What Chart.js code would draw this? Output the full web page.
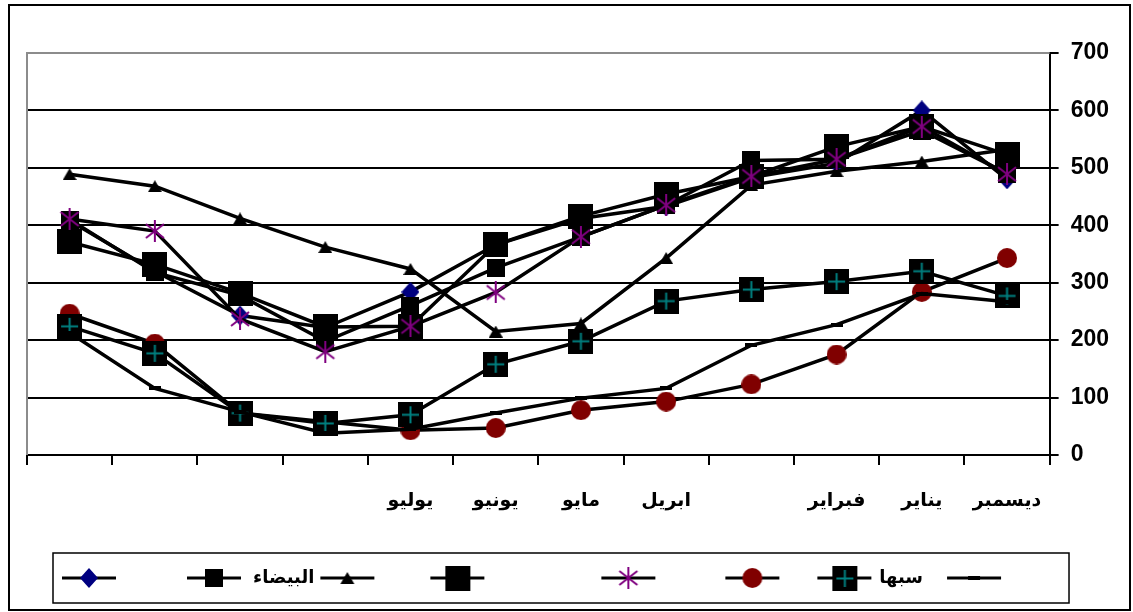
<!DOCTYPE html>
<html>
<head>
<meta charset="utf-8">
<script src="https://cdn.jsdelivr.net/npm/chart.js@4.4.1/dist/chart.umd.min.js"></script>
<style>
  html, body { margin: 0; padding: 0; background: #fff; }
  #wrap { width: 1133px; height: 612px; position: relative; }
</style>
</head>
<body>
<div id="wrap"><canvas id="chart"></canvas></div>
<script>
// Months, right to left (the axis is reversed)
const months = ['ديسمبر', 'يناير', 'فبراير', '', 'ابريل', 'مايو', 'يونيو', 'يوليو', '', '', '', ''];

// Y axis range
const yMin = 0;
const yMax = 700;
const yStep = 100;

// Series values, one per month in the order above
const seriesDiamond   = [480, 600, 508, 483, 433, 412, 366, 284, 222, 243, 320, 408];
const seriesBaida     = [490, 565, 515, 513, 435, 380, 326, 260, 198, 278, 318, 410];
const seriesTriangle  = [532, 511, 494, 470, 343, 229, 215, 324, 362, 412, 468, 489];
const seriesBigSquare = [523, 572, 537, 485, 454, 416, 366, 224, 223, 282, 332, 371];
const seriesStar      = [489, 572, 515, 485, 435, 380, 283, 224, 180, 237, 390, 411];
const seriesCircle    = [343, 284, 175, 123,  93,  78,  47,  43,  58,  73, 194, 246];
const seriesSabha     = [277, 320, 302, 288, 268, 198, 158,  70,  55,  73, 177, 224];
const seriesPlain     = [267, 281, 227, 191, 116,  99,  73,  45,  38,  75, 116, 213];

// Legend names
const seriesNames = ['', 'البيضاء', '', '', '', '', 'سبها', ''];

const NAVY = '#000080', PURPLE = '#800080', MAROON = '#800000', TEAL = '#008080';

function paintCanvas(w, h, paint) {
  const c = document.createElement('canvas');
  c.width = w; c.height = h;
  paint(c.getContext('2d'), w, h);
  return c;
}

// Point markers
const markers = {
  diamond: paintCanvas(18, 20, (g, w, h) => {
    g.fillStyle = NAVY;
    g.beginPath(); g.moveTo(w / 2, 0); g.lineTo(w, h / 2); g.lineTo(w / 2, h); g.lineTo(0, h / 2); g.closePath(); g.fill();
  }),
  smallSquare: paintCanvas(18, 18, (g, w, h) => { g.fillStyle = '#000'; g.fillRect(0, 0, w, h); }),
  triangle: paintCanvas(14, 12, (g, w, h) => {
    g.fillStyle = '#000';
    g.beginPath(); g.moveTo(w / 2, 0); g.lineTo(w, h); g.lineTo(0, h); g.closePath(); g.fill();
  }),
  bigSquare: paintCanvas(25, 25, (g, w, h) => { g.fillStyle = '#000'; g.fillRect(0, 0, w, h); }),
  star: paintCanvas(22, 22, (g) => {
    g.strokeStyle = PURPLE; g.lineWidth = 2;
    g.beginPath();
    g.moveTo(11, 0); g.lineTo(11, 22);
    g.moveTo(2, 4); g.lineTo(20, 18);
    g.moveTo(20, 4); g.lineTo(2, 18);
    g.stroke();
  }),
  circle: paintCanvas(20, 20, (g) => {
    g.fillStyle = MAROON;
    g.beginPath(); g.arc(10, 10, 10, 0, Math.PI * 2); g.fill();
  }),
  sabha: paintCanvas(25, 25, (g, w, h) => {
    g.fillStyle = '#000'; g.fillRect(0, 0, w, h);
    g.strokeStyle = TEAL; g.lineWidth = 2;
    g.beginPath();
    g.moveTo(12.5, 4); g.lineTo(12.5, 21);
    g.moveTo(4, 12.5); g.lineTo(21, 12.5);
    g.stroke();
  }),
  dash: paintCanvas(12, 4, (g, w, h) => { g.fillStyle = '#000'; g.fillRect(0, 0, w, h); })
};

// Legend symbols: a short line with the marker in the middle, nudged
// sideways inside a wider transparent image to space the entries out.
const SYMBOL_W = 54, SYMBOL_H = 26, NUDGE_MAX = 50;
const legendNudge = [-15, -3, -44, -47, 11, 22, 1, -26];

function legendSymbol(marker, nudge) {
  return paintCanvas(SYMBOL_W + 2 * NUDGE_MAX, SYMBOL_H, (g, w, h) => {
    const x0 = NUDGE_MAX + nudge;
    g.fillStyle = '#000';
    g.fillRect(x0, h / 2 - 1.5, SYMBOL_W, 3);
    if (marker) g.drawImage(marker, Math.round(x0 + (SYMBOL_W - marker.width) / 2), Math.round((h - marker.height) / 2));
  });
}

const seriesList = [
  { data: seriesDiamond,   marker: markers.diamond },
  { data: seriesBaida,     marker: markers.smallSquare },
  { data: seriesTriangle,  marker: markers.triangle },
  { data: seriesBigSquare, marker: markers.bigSquare },
  { data: seriesStar,      marker: markers.star },
  { data: seriesCircle,    marker: markers.circle },
  { data: seriesSabha,     marker: markers.sabha },
  { data: seriesPlain,     marker: markers.dash }
];

const datasets = seriesList.map((s, i) => ({
  label: seriesNames[i],
  data: s.data,
  borderColor: '#000',
  backgroundColor: '#000',
  borderWidth: 3.5,
  tension: 0,
  fill: false,
  pointStyle: s.marker,
  pointRadius: 10,
  pointHoverRadius: 10,
  order: seriesList.length - i,
  legendSymbol: legendSymbol(s.marker, legendNudge[i])
}));

// White page, outer frame, plot border and a frame round the legend
const framePlugin = {
  id: 'frame',
  beforeDraw(chart) {
    const ctx = chart.ctx;
    ctx.save();
    ctx.fillStyle = '#fff';
    ctx.fillRect(0, 0, chart.width, chart.height);
    ctx.restore();
  },
  beforeDatasetsDraw(chart) {
    const { ctx, chartArea: a } = chart;
    ctx.save();
    ctx.strokeStyle = '#8c8c8c';
    ctx.lineWidth = 2;
    ctx.beginPath();
    ctx.moveTo(a.left, a.bottom);
    ctx.lineTo(a.left, a.top);
    ctx.lineTo(a.right, a.top);
    ctx.stroke();
    ctx.restore();
  },
  afterDraw(chart) {
    const ctx = chart.ctx;
    ctx.save();
    ctx.strokeStyle = '#000';
    ctx.lineWidth = 2;
    ctx.strokeRect(9, 5, chart.width - 12, chart.height - 7);
    const boxes = chart.legend && chart.legend.legendHitBoxes;
    if (boxes && boxes.length) {
      const first = boxes[0], last = boxes[boxes.length - 1];
      const cy = first.top + first.height / 2;
      const left = first.left - 24;
      const right = last.left + 96;
      ctx.lineWidth = 1.5;
      ctx.strokeRect(left, cy - 25, right - left, 50);
    }
    ctx.restore();
  }
};

Chart.defaults.font.family = "'Liberation Sans', 'DejaVu Sans', Arial, sans-serif";
Chart.defaults.color = '#000';

new Chart(document.getElementById('chart'), {
  type: 'line',
  data: { labels: months, datasets },
  plugins: [framePlugin],
  options: {
    responsive: true,
    maintainAspectRatio: false,
    animation: false,
    events: [],
    layout: { padding: { left: 27, top: 53, right: 12, bottom: 15 } },
    scales: {
      x: {
        type: 'category',
        reverse: true,
        offset: true,
        grid: { offset: true, drawOnChartArea: false, drawTicks: true, tickLength: 10, color: '#000', lineWidth: 2 },
        border: { color: '#000', width: 2 },
        ticks: { autoSkip: false, maxRotation: 0, padding: 24, color: '#000', font: { size: 19, weight: 'bold' } },
        afterFit(scale) { scale.height = 64; }
      },
      y: {
        position: 'right',
        min: yMin,
        max: yMax,
        grid: { color: '#000', lineWidth: 2, tickLength: 9 },
        border: { color: '#000', width: 2 },
        ticks: { stepSize: yStep, padding: 12, color: '#000', font: { size: 23, weight: 'bold' } }
      }
    },
    plugins: {
      tooltip: { enabled: false },
      legend: {
        position: 'bottom',
        align: 'start',
        labels: {
          usePointStyle: true,
          pointStyleWidth: SYMBOL_W,
          padding: 50,
          color: '#000',
          font: { size: 18, weight: 'bold' },
          generateLabels(chart) {
            return chart.data.datasets.map((ds, i) => ({
              text: ds.label,
              pointStyle: ds.legendSymbol,
              datasetIndex: i,
              hidden: false,
              fillStyle: '#000',
              strokeStyle: '#000',
              lineWidth: 0,
              fontColor: '#000'
            }));
          }
        }
      }
    }
  }
});
</script>
</body>
</html>
